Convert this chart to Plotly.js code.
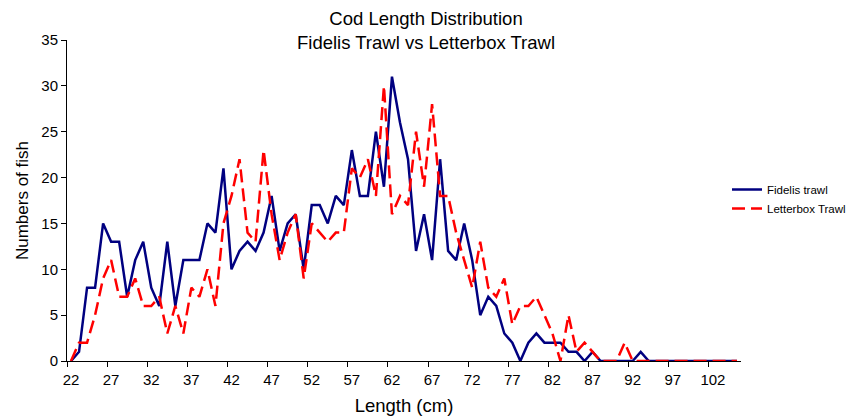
<!DOCTYPE html>
<html>
<head>
<meta charset="utf-8">
<script src="https://cdn.plot.ly/plotly-3.0.1.min.js"></script>
<style>html,body{margin:0;padding:0;background:#fff;}#chart{width:850px;height:419px;}</style>
</head>
<body>
<div id="chart"></div>
<script>
// Length classes (cm)
const lengths = [22,23,24,25,26,27,28,29,30,31,32,33,34,35,36,37,38,39,40,41,42,43,44,45,46,47,48,49,50,51,52,53,54,55,56,57,58,59,60,61,62,63,64,65,66,67,68,69,70,71,72,73,74,75,76,77,78,79,80,81,82,83,84,85,86,87,88,89,90,91,92,93,94,95,96,97,98,99,100,101,102,103,104,105];

// Fidelis trawl counts
const fidelis = [0,1,8,8,15,13,13,7,11,13,8,6,13,6,11,11,11,15,14,21,10,12,13,12,14,18,12,15,16,10,17,17,15,18,17,23,18,18,25,19,31,26,22,12,16,11,22,12,11,15,11,5,7,6,3,2,0,2,3,2,2,2,1,1,0,1,0,0,0,0,0,1,0,0,0,0,0,0,0,0,0,0,0,0];

// Letterbox trawl counts
const letterbox = [0,2,2,5,9,11,7,7,9,6,6,7,3,6,3,8,7,10,6,15,18,22,14,13,23,16,11,14,16,9,15,14,13,14,14,21,20,22,18,30,16,18,17,25,19,28,18,18,14,11,8,13,8,7,9,4,6,6,7,5,3,0,5,1,2,1,0,0,0,2,0,0,0,0,0,0,0,0,0,0,0,0,0,0];

// x tick labels
const xTickLabels = [22,27,32,37,42,47,52,57,62,67,72,77,82,87,92,97,102];
const yTickValues = [0,5,10,15,20,25,30,35];

const FONT = 'Liberation Sans, Arial, sans-serif';

const traces = [
  {
    x: lengths, y: fidelis, name: 'Fidelis trawl', type: 'scatter', mode: 'lines',
    line: {color: '#000080', width: 2.5}
  },
  {
    x: lengths, y: letterbox, name: 'Letterbox Trawl', type: 'scatter', mode: 'lines',
    line: {color: '#FF0000', width: 2.5, dash: '13px,6px'}
  }
];

const layout = {
  width: 850, height: 419,
  margin: {l: 67, r: 109, t: 40, b: 58, autoexpand: false},
  paper_bgcolor: '#ffffff', plot_bgcolor: '#ffffff',
  font: {family: FONT, color: '#000000', size: 15},
  title: {
    text: 'Cod Length Distribution<br>Fidelis Trawl vs Letterbox Trawl',
    font: {family: FONT, size: 18.5, color: '#000000'},
    x: 426/850, xref: 'container', xanchor: 'center',
    y: 1 - 25/419, yref: 'container', yanchor: 'middle'
  },
  xaxis: {
    range: [21.5, 105.5],
    tickmode: 'array',
    tickvals: xTickLabels.map(v => v - 0.5),
    ticktext: xTickLabels.map(String),
    ticklabelshift: 4,
    ticks: 'outside', ticklen: 5, tickcolor: '#000', tickwidth: 1,
    showline: true, linecolor: '#000', linewidth: 1,
    showgrid: false, zeroline: false,
    tickfont: {size: 15},
    title: {text: 'Length (cm)', font: {size: 18.5}, standoff: 12}
  },
  yaxis: {
    range: [0, 35],
    tickmode: 'array', tickvals: yTickValues,
    ticks: 'outside', ticklen: 5, tickcolor: '#000', tickwidth: 1,
    showline: true, linecolor: '#000', linewidth: 1,
    showgrid: false, zeroline: false,
    tickfont: {size: 15},
    title: {text: 'Numbers of fish', font: {size: 17}, standoff: 8}
  },
  showlegend: true,
  legend: {
    xref: 'container', yref: 'container',
    x: 727/850, xanchor: 'left', y: 1 - 199/419, yanchor: 'middle',
    font: {size: 11.5, family: FONT},
    bgcolor: 'rgba(0,0,0,0)', borderwidth: 0, tracegroupgap: 0
  }
};

Plotly.newPlot('chart', traces, layout, {displayModeBar: false, staticPlot: true});
</script>
</body>
</html>
